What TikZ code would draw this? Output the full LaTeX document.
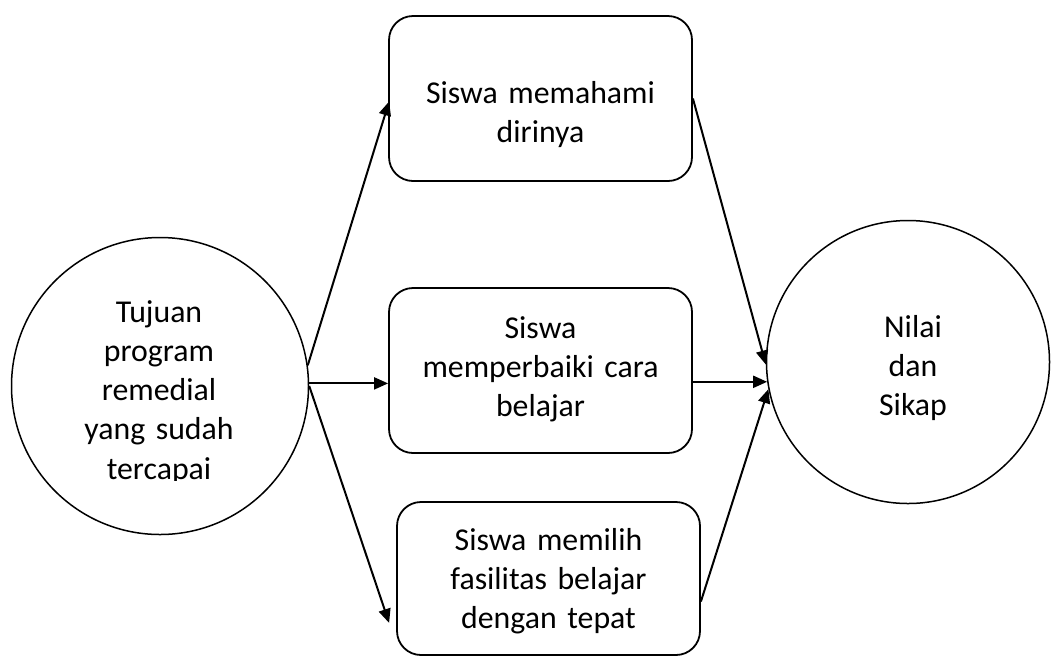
\documentclass[tikz,border=0pt]{standalone}
\usepackage{fontspec}
\setmainfont{Carlito}
\usetikzlibrary{arrows.meta,calc}
\begin{document}
\begin{tikzpicture}[x=1pt,y=-1pt,
  circ/.style={circle,draw,line width=1.5pt,inner sep=0pt},
  stepbox/.style={rectangle,draw,line width=1.8pt,rounded corners=24pt,inner sep=0pt,minimum width=303pt},
  lbl/.style={anchor=base,text width=320pt,align=center,inner sep=0pt,font=\fontsize{31.8}{39.3}\selectfont},
  conn/.style={line width=2pt,-{Triangle[length=14pt,width=12pt]}}]
\useasboundingbox (0,0) rectangle (1051,657);
% shapes
\node[circ,minimum size=297pt] (L) at (160,386) {};
\node[circ,minimum size=283pt] (R) at (908,362) {};
\node[stepbox,minimum height=165pt] (A) at (540.5,98.5) {};
\node[stepbox,minimum height=165pt] (B) at (540.5,370.5) {};
\node[stepbox,minimum height=153pt] (C) at (548.5,578.5) {};
% texts
\begin{scope}
\clip (0,0) rectangle (1051,480.5);
\node[lbl] (Lt) at (159,322) {Tujuan\\program\\remedial\\yang sudah\\tercapai};
\end{scope}
\node[lbl] (Rt) at (913,337) {Nilai\\dan\\Sikap};
\node[lbl] (At) at (540.5,103) {Siswa memahami\\dirinya};
\node[lbl] (Bt) at (540.5,338) {Siswa\\memperbaiki cara\\belajar};
\node[lbl] (Ct) at (548.5,550) {Siswa memilih\\fasilitas belajar\\dengan tepat};
% connectors
\draw[conn] (L.8) -- ($(A.west)+(1,3)$);
\draw[conn] (L.1.5) -- (L.1.5 -| A.west);
\draw[conn] (L.0.5) -- ($(C.south west)+(-7,-33)$);
\draw[conn] (A.east) -- (R.181);
\draw[conn] (R.188 -| B.east) -- (R.188);
\draw[conn] ($(C.east)+(0,23)$) -- (R.191);
\end{tikzpicture}
\end{document}
